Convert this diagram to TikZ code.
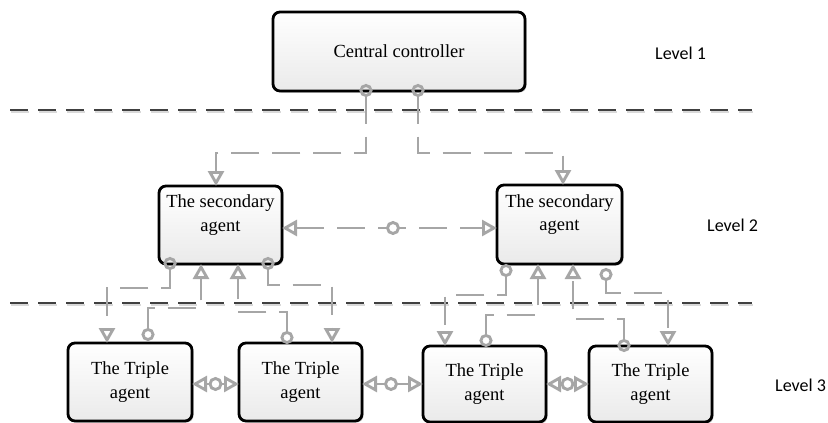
\documentclass[tikz,border=0pt]{standalone}
\usepackage{fontspec}
\setmainfont{Liberation Serif}
\newfontfamily\lvlfont{Carlito}
\usetikzlibrary{arrows.meta,calc,shadows}
\definecolor{conngray}{HTML}{A6A6A6}
\definecolor{lvlgray}{HTML}{404040}
\definecolor{boxbot}{HTML}{EAEAEA}
\begin{document}
\begin{tikzpicture}[x=1pt,y=-1pt,
  box/.style={draw=black,line width=2.8pt,rounded corners=7pt,top color=white,bottom color=boxbot,
    inner sep=1pt,outer sep=0pt,align=center,font=\fontsize{18.5}{23.5}\selectfont,
    drop shadow={shadow xshift=1.5pt,shadow yshift=-1.5pt,opacity=0.25,fill=black}},
  lvl/.style={font=\lvlfont\fontsize{18}{21}\selectfont,anchor=west,inner sep=0pt},
  lvlline/.style={draw=lvlgray,line width=2.7pt,dash pattern=on 18pt off 10pt},
  lvlshadow/.style={draw=black!15,line width=2.5pt,dash pattern=on 18pt off 10pt},
  conn/.style={draw=conngray,line width=2.9pt,dash pattern=on 28pt off 13pt,line join=miter},
  c2t/.style={arrows={Circle[open,length=13pt]-Triangle[open,length=15pt,width=16pt]}},
  t2t/.style={arrows={Triangle[open,length=15pt,width=16pt]-Triangle[open,length=15pt,width=16pt]}},
  midcirc/.style={draw=conngray,line width=2.9pt,fill=white}]
\useasboundingbox (0,0) rectangle (828,423);

% boxes
\node[box,minimum width=252pt,minimum height=79pt] (cc) at (399,51.5) {Central controller};
\node[box,minimum width=123pt,minimum height=78pt] (secL) at (220.5,225) {The secondary\\agent\\~};
\node[box,minimum width=125pt,minimum height=79pt] (secR) at (559.5,224.5) {The secondary\\agent\\~};
\node[box,minimum width=124pt,minimum height=78pt] (t1) at (130,382) {The Triple\\agent};
\node[box,minimum width=123pt,minimum height=78pt] (t2) at (300.5,382) {The Triple\\agent};
\node[box,minimum width=123pt,minimum height=76pt] (t3) at (484.5,384) {The Triple\\agent};
\node[box,minimum width=123pt,minimum height=76pt] (t4) at (650.5,384) {The Triple\\agent};

% level labels
\node[lvl] (l1) at (655,53) {Level 1};
\node[lvl] (l2) at (707,225) {Level 2};
\node[lvl] (l3) at (775,385) {Level 3};

% level separators
\draw[lvlshadow] (11,112) -- (753,112);
\draw[lvlline] (10,110) -- (752,110);
\draw[lvlshadow] (11,305) -- (753,305);
\draw[lvlline] (10,303) -- (752,303);

% central controller to secondary agents
\draw[conn,c2t] ($(cc.south -| 366,0)+(0,-7)$) |- (216,153) -- (secL.north -| 216,0);
\draw[conn,c2t] ($(cc.south -| 418,0)+(0,-7)$) |- (563,153) -- (secR.north -| 563,0);

% between secondary agents
\draw[conn,t2t] (secL.east |- 0,228) -- (secR.west |- 0,228);
\draw[midcirc] (393,228) circle[radius=5.5pt];

% left secondary <-> triple 1,2
\draw[conn,c2t] ($(secL.south -| 170,0)+(0,-7)$) |- (107,288) -- (t1.north -| 107,0);
\draw[conn,c2t] ($(t1.north -| 148,0)+(0,-2)$) |- (201,308) -- (secL.south -| 201,0);
\draw[conn,c2t] ($(t2.north -| 287,0)+(0,1)$) |- (238,312) -- (secL.south -| 238,0);
\draw[conn,c2t] ($(secL.south -| 268,0)+(0,-7)$) |- (332,285) -- (t2.north -| 332,0);

% right secondary <-> triple 3,4
\draw[conn,c2t] ($(secR.south -| 506,0)+(0,0)$) |- (445,295) -- (t3.north -| 445,0);
\draw[conn,c2t] ($(t3.north -| 486,0)+(0,1)$) |- (538,315) -- (secR.south -| 538,0);
\draw[conn,c2t] ($(t4.north -| 624,0)+(0,6)$) |- (573,319) -- (secR.south -| 573,0);
\draw[conn,c2t] ($(secR.south -| 606,0)+(0,4)$) |- (668,293) -- (t4.north -| 668,0);

% between triple agents
\draw[conn,solid,t2t] (t1.east |- 0,384) -- (t2.west |- 0,384);
\draw[midcirc] (215.5,384) circle[radius=5.5pt];
\draw[conn,solid,t2t] (t2.east |- 0,384) -- (t3.west |- 0,384);
\draw[midcirc] (391,384) circle[radius=5.5pt];
\draw[conn,solid,t2t] (t3.east |- 0,384) -- (t4.west |- 0,384);
\draw[midcirc] (567.5,384) circle[radius=5.5pt];
\end{tikzpicture}
\end{document}
